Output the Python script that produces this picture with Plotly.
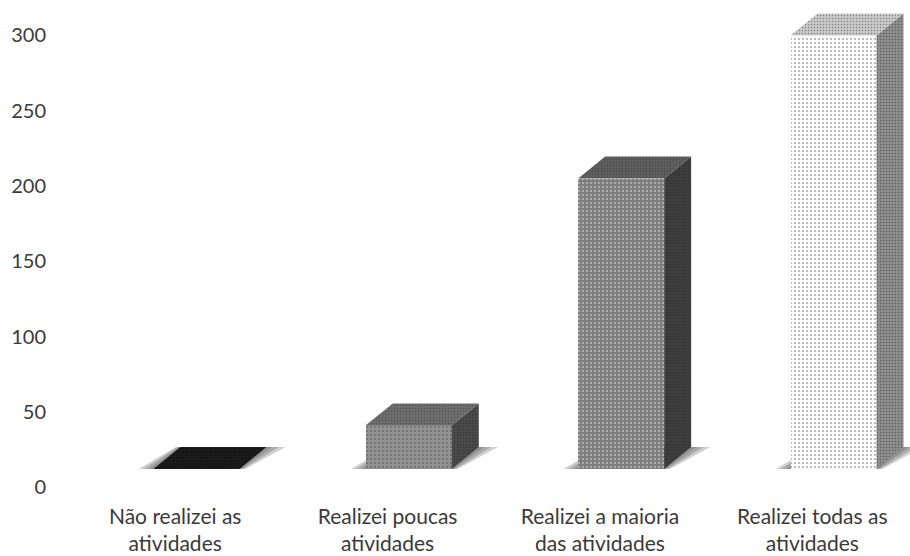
import plotly.graph_objects as go

# Survey answers and counts
categories = [
    "Não realizei as<br>atividades",
    "Realizei poucas<br>atividades",
    "Realizei a maioria<br>das atividades",
    "Realizei todas as<br>atividades",
]
counts = [0, 29, 193, 288]
y_ticks = [0, 50, 100, 150, 200, 250, 300]

# Face colours for each column: front, side, top
front_colors = ["#1c1c1c", "#929292", "#7e7e7e", "#ffffff"]
side_colors = ["#2a2a2a", "#4a4a4a", "#3e3e3e", "#8e8e8e"]
top_colors = ["#161616", "#6e6e6e", "#5e5e5e", "#c9c9c9"]
front_dots = ["#000000", "#5c5c5c", "#4e4e4e", "#6a6a6a"]

# Pseudo-3D geometry (axis units)
BAR_W = 0.405        # front face width
DX = 0.127           # horizontal depth offset
DY = 14.6            # vertical depth offset
SH_L = 0.07          # shadow reach left of the front face
SH_R = 0.09          # shadow reach right of the side face
LABEL_SHIFT = -0.1   # category labels sit slightly left of column fronts

xs = list(range(len(counts)))
fig = go.Figure()

# soft floor shadows under every column
for i, v in zip(xs, counts):
    for grow, col, op in [(1.0, "#c4c4c4", 0.8), (0.65, "#a0a0a0", 0.75), (0.3, "#808080", 0.6)]:
        l0 = i - BAR_W / 2 - SH_L * grow
        r0 = i + BAR_W / 2 + SH_R * grow * 0.3
        l1 = i - BAR_W / 2 + DX - SH_L * grow * 0.3
        r1 = i + BAR_W / 2 + DX + SH_R * grow
        fig.add_shape(
            type="path", xref="x", yref="y", layer="below",
            path=f"M {l0},0 L {r0},0 L {r1},{DY} L {l1},{DY} Z",
            fillcolor=col, opacity=op, line=dict(width=0),
        )

# front faces
fig.add_trace(go.Bar(
    x=xs, y=counts, width=BAR_W,
    marker=dict(
        color=front_colors,
        line=dict(width=0),
        pattern=dict(shape=".", fgcolor=front_dots, size=4, solidity=0.18,
                     fillmode="overlay"),
    ),
    hoverinfo="skip", showlegend=False,
))

# side and top faces
for i, v in enumerate(counts):
    right = i + BAR_W / 2
    left = i - BAR_W / 2
    if v > 0:
        fig.add_trace(go.Scatter(
            x=[right, right + DX, right + DX, right, right],
            y=[0, DY, v + DY, v, 0],
            fill="toself", fillcolor=side_colors[i], mode="lines",
            line=dict(width=0), hoverinfo="skip", showlegend=False,
            fillpattern=dict(shape=".", fgcolor="#222222", size=3, solidity=0.2,
                             fillmode="overlay"),
        ))
    fig.add_trace(go.Scatter(
        x=[left, left + DX, right + DX, right, left],
        y=[v, v + DY, v + DY, v, v],
        fill="toself", fillcolor=top_colors[i], mode="lines",
        line=dict(width=0), hoverinfo="skip", showlegend=False,
        fillpattern=dict(shape=".", fgcolor="#333333", size=3, solidity=0.2,
                         fillmode="overlay"),
    ))

font = dict(family="Lato, 'Open Sans', sans-serif", size=21, color="#3a3a3a")

fig.update_layout(
    width=910, height=556,
    margin=dict(l=68.5, r=0, t=5, b=87),
    paper_bgcolor="white", plot_bgcolor="white",
    font=font,
    bargap=0,
    xaxis=dict(
        range=[-0.6, 3.36], showgrid=False, zeroline=False, showline=False,
        tickvals=[x + LABEL_SHIFT for x in xs], ticktext=categories,
        ticks="", ticklabelstandoff=33, tickfont=dict(size=21),
    ),
    yaxis=dict(
        range=[0, 308.3], showgrid=False, zeroline=False, showline=False,
        tickvals=y_ticks, ticks="", ticklabelstandoff=22, ticklabelshift=18,
        tickfont=dict(size=20),
    ),
)

fig.write_html("out.html")
